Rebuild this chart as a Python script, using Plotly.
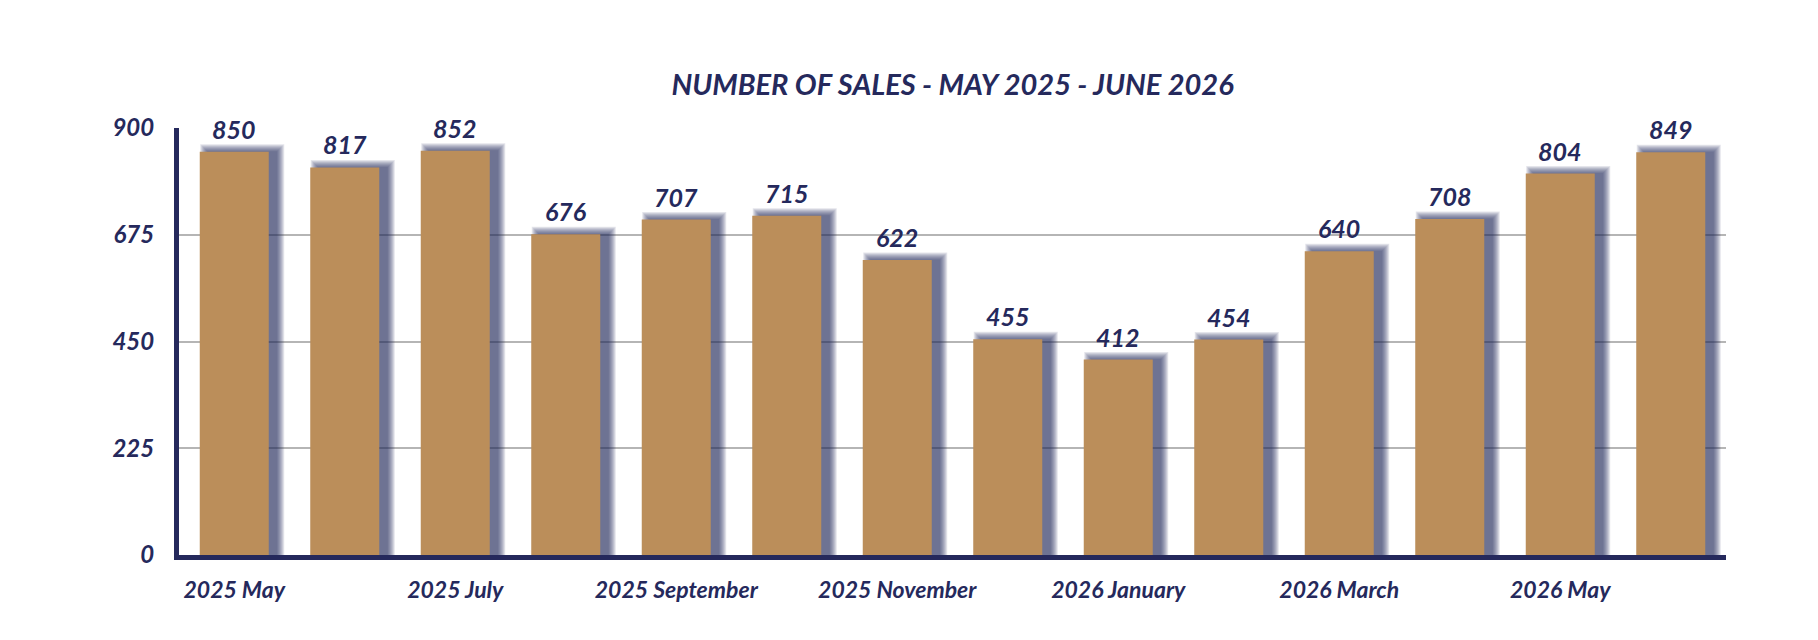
import plotly.graph_objects as go

months = ["2025 May", "2025 June", "2025 July", "2025 August", "2025 September", "2025 October",
          "2025 November", "2025 December", "2026 January", "2026 February", "2026 March",
          "2026 April", "2026 May", "2026 June"]
sales = [850, 817, 852, 676, 707, 715, 622, 455, 412, 454, 640, 708, 804, 849]
y_ticks = [0, 225, 450, 675, 900]
x_tick_labels = months[::2]

NAVY = "#25295C"
GOLD = "#BB8E5A"
FONT = "Lato"

W, H = 1818, 640
L, R, T, B = 179, 92, 128, 85
px_cat = (W - L - R) / len(months)
px_unit = (H - T - B) / 900.0

bar_w_px = 69
fig = go.Figure()

# soft shadow layers (offset right, blurred)
dx, dy = 8, 0
for k in [0.5, 1.5, 2.5, 3.5, 4.5, 5.5, 6.5, 7.5]:
    wpx = bar_w_px + 2 * k
    fig.add_trace(go.Bar(
        x=months, y=[v + (k + dy) / px_unit for v in sales],
        width=wpx / px_cat, offset=(-wpx / 2 + dx) / px_cat,
        marker=dict(color="rgba(37,41,92,0.12)", line=dict(width=0)),
        hoverinfo="skip", showlegend=False))

fig.add_trace(go.Bar(
    x=months, y=sales, width=bar_w_px / px_cat, offset=-bar_w_px / 2 / px_cat,
    marker=dict(color=GOLD, line=dict(width=0)), showlegend=False))

for m, v in zip(months, sales):
    fig.add_annotation(x=m, y=v, text=str(v), showarrow=False, yanchor="bottom",
                       yshift=6, font=dict(family=FONT, size=25, color=NAVY,
                                           weight="bold", style="italic"))

fig.update_layout(
    width=W, height=H, barmode="overlay",
    margin=dict(l=L, r=R, t=T, b=B, autoexpand=False),
    paper_bgcolor="white", plot_bgcolor="white",
    title=dict(text="NUMBER OF SALES - MAY 2025 - JUNE 2026", x=0.5, xanchor="center",
               xref="paper", y=1 - 85 / H, yanchor="middle", yref="container",
               font=dict(family=FONT, size=29, color=NAVY, weight="bold", style="italic")),
)
fig.update_xaxes(
    type="category", range=[-0.5, len(months) - 0.5],
    showline=True, linecolor=NAVY, linewidth=5, showgrid=False, ticks="",
    tickmode="array", tickvals=x_tick_labels, ticktext=x_tick_labels,
    tickfont=dict(family=FONT, size=23, color=NAVY, weight="bold", style="italic"),
    ticklabelstandoff=10)
fig.update_yaxes(
    range=[0, 900], tickvals=y_ticks, showline=True, linecolor=NAVY, linewidth=5,
    showgrid=True, gridcolor="#B5B5B5", gridwidth=2, zeroline=False, ticks="",
    tickfont=dict(family=FONT, size=24, color=NAVY, weight="bold", style="italic"),
    ticklabelstandoff=15)

fig.write_html("out.html")
